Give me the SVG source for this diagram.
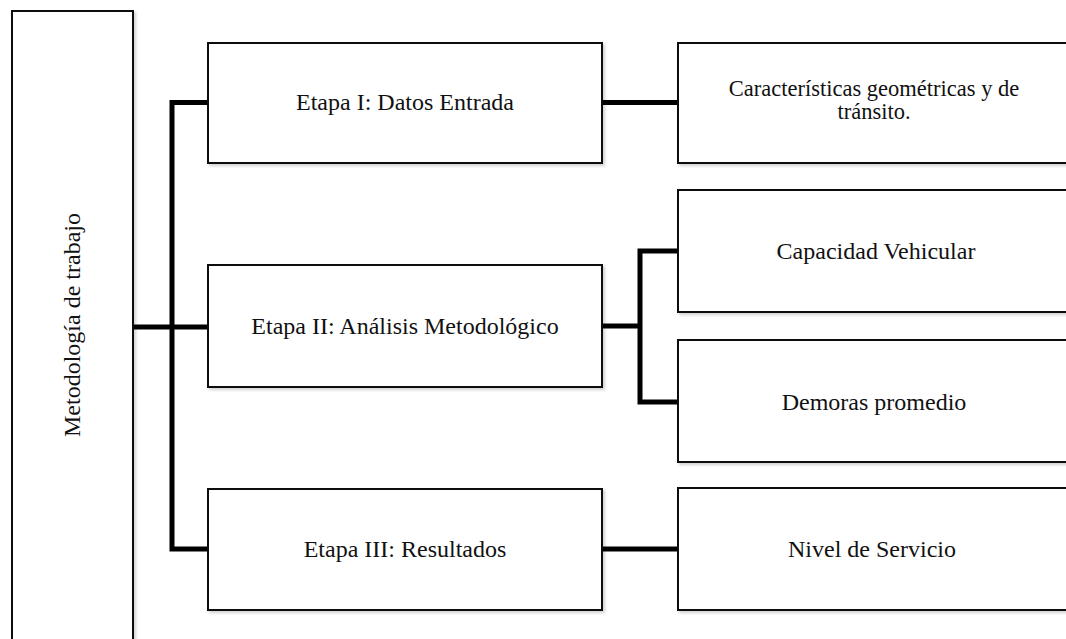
<svg xmlns="http://www.w3.org/2000/svg" width="1066" height="639" viewBox="0 0 1066 639">
  <defs>
    <filter id="sh" x="-5%" y="-5%" width="115%" height="115%">
      <feDropShadow dx="2" dy="2" stdDeviation="1.5" flood-color="#000" flood-opacity="0.18"/>
    </filter>
    <style>
      .box { fill: #ffffff; stroke: #111111; stroke-width: 2; filter: url(#sh); }
      .lbl { font-family: "Liberation Serif", "Times New Roman", serif; font-size: 24px; fill: #111111; text-anchor: middle; }
      .sm { font-size: 22.5px; }
      .con { fill: none; stroke: #000000; stroke-width: 5; stroke-linejoin: miter; stroke-linecap: butt; }
    </style>
  </defs>
  <rect x="0" y="0" width="1066" height="639" fill="#ffffff"/>

  <g id="connectors">
    <path class="con" d="M208,102.5 H172 V549 H208"/>
    <path class="con" d="M133,327 H208"/>
    <path class="con" d="M602,102.5 H678"/>
    <path class="con" d="M602,326 H640"/>
    <path class="con" d="M678,251 H640 V402 H678"/>
    <path class="con" d="M602,549 H678"/>
  </g>

  <g id="node-metodologia">
    <rect class="box" x="12" y="11" width="121" height="640"/>
    <text class="lbl" transform="translate(80,325) rotate(-90)">Metodología de trabajo</text>
  </g>

  <g id="node-etapa1">
    <rect class="box" x="208" y="43" width="394" height="120"/>
    <text class="lbl" x="405" y="110">Etapa I: Datos Entrada</text>
  </g>

  <g id="node-etapa2">
    <rect class="box" x="208" y="265" width="394" height="122"/>
    <text class="lbl" x="405" y="334">Etapa II: Análisis Metodológico</text>
  </g>

  <g id="node-etapa3">
    <rect class="box" x="208" y="489" width="394" height="121"/>
    <text class="lbl" x="405" y="557">Etapa III: Resultados</text>
  </g>

  <g id="node-caracteristicas">
    <rect class="box" x="678" y="43" width="400" height="120"/>
    <text class="lbl sm" x="874" y="96">Características geométricas y de</text>
    <text class="lbl sm" x="874" y="119">tránsito.</text>
  </g>

  <g id="node-capacidad">
    <rect class="box" x="678" y="190" width="400" height="122"/>
    <text class="lbl" x="876" y="259">Capacidad Vehicular</text>
  </g>

  <g id="node-demoras">
    <rect class="box" x="678" y="340" width="400" height="122"/>
    <text class="lbl" x="874" y="410">Demoras promedio</text>
  </g>

  <g id="node-nivel">
    <rect class="box" x="678" y="488" width="400" height="122"/>
    <text class="lbl" x="872" y="557">Nivel de Servicio</text>
  </g>
</svg>
